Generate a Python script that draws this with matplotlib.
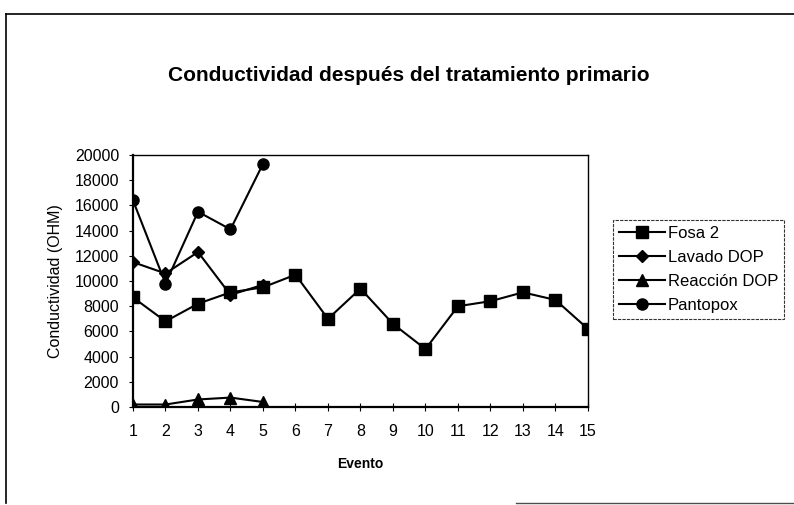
import matplotlib.pyplot as plt
from matplotlib.lines import Line2D

plt.rcParams['font.family'] = ['Liberation Sans', 'DejaVu Sans']

eventos = list(range(1, 16))
fosa_2 = [8700, 6800, 8200, 9100, 9500, 10500, 7000, 9400, 6600,
          4600, 8000, 8400, 9100, 8500, 6200]
lavado_dop = [11500, 10600, 12300, 8900, 9700]
reaccion_dop = [200, 200, 600, 750, 400]
pantopox = [16400, 9800, 15500, 14100, 19300]

series = [
    ('Fosa 2', fosa_2, 's'),
    ('Lavado DOP', lavado_dop, 'D'),
    ('Reacción DOP', reaccion_dop, '^'),
    ('Pantopox', pantopox, 'o'),
]
msizes = {'s': 8, 'D': 6.5, '^': 8, 'o': 8}

fig = plt.figure(figsize=(7.94, 5.05), dpi=100)
ax = fig.add_axes([0.1675, 0.194, 0.573, 0.499])

for name, vals, mk in series:
    ax.plot(eventos[:len(vals)], vals, color='black', lw=1.5,
            marker=mk, ms=msizes[mk], label=name)

ax.set_xlim(1, 15)
ax.set_ylim(0, 20000)
ax.set_xticks(eventos)
ax.set_yticks(range(0, 20001, 2000))
ax.tick_params(axis='x', direction='inout', length=6, labelsize=11.5, pad=9)
ax.tick_params(axis='y', direction='out', length=3, labelsize=11.5, pad=7)
for sp in ax.spines.values():
    sp.set_linewidth(1.0)
ax.spines['left'].set_linewidth(1.6)
ax.spines['bottom'].set_linewidth(1.6)
ax.set_ylabel('Conductividad (OHM)', fontsize=11.5, labelpad=8)
ax.set_xlabel('Evento', fontsize=10, fontweight='bold', labelpad=13)

fig.text(0.515, 0.85, 'Conductividad después del tratamiento primario',
         ha='center', va='center', fontsize=15, fontweight='bold')

leg = fig.legend(loc='upper left', bbox_to_anchor=(0.772, 0.565),
                 fontsize=12, frameon=True, fancybox=False,
                 handlelength=2.8, borderpad=0.35, labelspacing=0.55,
                 handletextpad=0.15, borderaxespad=0)
leg.get_frame().set_edgecolor('black')
leg.get_frame().set_linewidth(0.8)
leg.get_frame().set_linestyle((0, (3, 1)))

# outer frame of the chart area
frame_kw = dict(color='black', lw=1.2, transform=fig.transFigure)
fig.add_artist(Line2D([0.007, 1.0], [0.972, 0.972], **frame_kw))
fig.add_artist(Line2D([0.007, 0.007], [0.003, 0.972], **frame_kw))
fig.add_artist(Line2D([0.65, 1.0], [0.004, 0.004], color='0.3', lw=1.0,
                      transform=fig.transFigure))

fig.savefig('out.png', dpi=100)
